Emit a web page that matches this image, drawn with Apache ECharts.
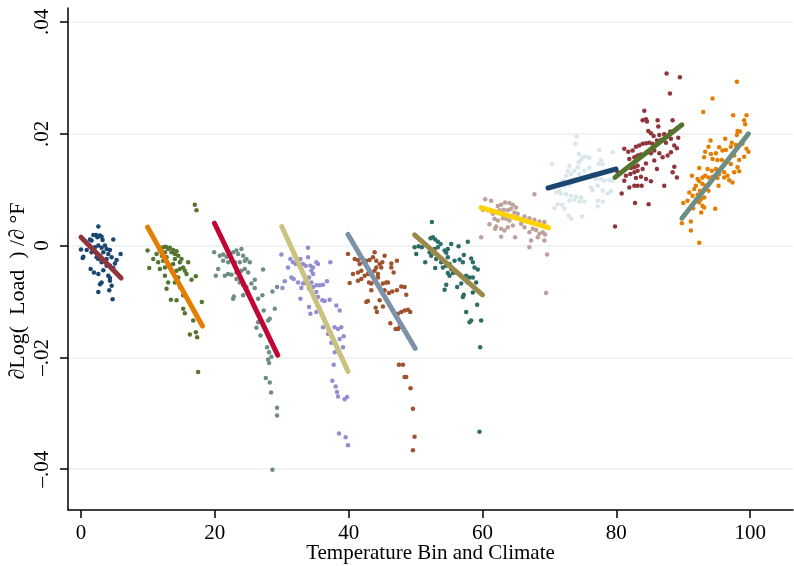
<!DOCTYPE html>
<html>
<head>
<meta charset="utf-8">
<script src="https://cdn.jsdelivr.net/npm/echarts@6/dist/echarts.min.js"></script>
<style>
  html, body { margin: 0; padding: 0; background: #fff; }
  #chart { width: 794px; height: 566px; }
</style>
</head>
<body>
<div id="chart"></div>
<script>
// tick labels
var xTicks = [0, 20, 40, 60, 80, 100];
var yTicks = [-0.04, -0.02, 0, 0.02, 0.04];

// scatter groups (x = bin, y = slope)
var scatter1 = [[2.59,0.0034],[1.84,0.0019],[2.24,0.0019],[2.44,0.0015],[2.84,0.0018],[3.08,0.0016],[3.23,0.0010],[1.59,0.0009],[1.34,0.0011],[4.83,0.0011],[0.0,-0.0007],[0.85,-0.0008],[1.59,-0.0012],[2.09,-0.0003],[2.59,0.0000],[3.08,-0.0004],[3.58,0.0000],[3.83,-0.0006],[4.33,-0.0008],[3.33,-0.0012],[2.84,-0.0018],[2.34,-0.0021],[0.35,-0.0020],[0.25,-0.0022],[4.08,-0.0015],[4.58,-0.0021],[5.92,-0.0015],[5.32,-0.0026],[5.07,-0.0032],[2.59,-0.0024],[3.08,-0.0030],[3.83,-0.0024],[1.44,-0.0042],[1.94,-0.0048],[2.59,-0.0051],[3.33,-0.0044],[4.08,-0.0054],[4.33,-0.0058],[3.08,-0.0066],[2.84,-0.0069],[4.33,-0.0063],[4.58,-0.0072],[4.23,-0.0080],[2.59,-0.0083],[4.73,-0.0096],[3.83,-0.0036],[4.33,-0.0036],[4.83,-0.0040]];
var scatter2 = [[17.01,0.0073],[17.26,0.0063],[9.95,-0.0009],[10.80,-0.0024],[10.20,-0.0040],[11.29,-0.0015],[11.79,-0.0009],[12.29,-0.0003],[12.69,-0.0002],[13.03,-0.0006],[13.28,-0.0004],[13.53,-0.0012],[13.78,-0.0008],[14.03,-0.0015],[14.28,-0.0010],[14.53,-0.0018],[12.79,-0.0021],[12.29,-0.0027],[11.79,-0.0042],[11.54,-0.0030],[12.54,-0.0039],[13.28,-0.0036],[13.78,-0.0033],[14.28,-0.0045],[14.78,-0.0042],[15.27,-0.0039],[15.52,-0.0045],[16.02,-0.0030],[15.77,-0.0051],[15.02,-0.0024],[14.53,-0.0057],[14.03,-0.0066],[13.03,-0.0066],[12.79,-0.0077],[12.54,-0.0054],[14.78,-0.0074],[15.27,-0.0089],[14.28,-0.0098],[13.43,-0.0097],[16.52,-0.0061],[17.16,-0.0055],[15.27,-0.0113],[15.52,-0.0121],[16.77,-0.0134],[18.06,-0.0101],[16.27,-0.0159],[17.16,-0.0155],[17.36,-0.0164],[17.51,-0.0226],[12.54,-0.0012],[12.09,-0.0018],[14.03,-0.0024],[14.78,-0.0030]];
var scatter3 = [[19.90,-0.0012],[20.75,-0.0018],[21.24,-0.0016],[21.74,-0.0020],[22.24,-0.0015],[22.74,-0.0012],[23.23,-0.0009],[23.98,-0.0006],[23.48,-0.0015],[24.23,-0.0018],[24.73,-0.0024],[25.22,-0.0030],[24.48,-0.0027],[23.73,-0.0030],[22.99,-0.0030],[22.49,-0.0027],[21.99,-0.0030],[21.24,-0.0027],[20.50,-0.0042],[20.15,-0.0054],[21.49,-0.0054],[21.99,-0.0051],[22.49,-0.0052],[23.23,-0.0048],[23.98,-0.0045],[24.48,-0.0042],[24.98,-0.0048],[23.23,-0.0060],[23.73,-0.0066],[24.23,-0.0071],[24.73,-0.0074],[25.47,-0.0068],[25.97,-0.0061],[25.97,-0.0076],[24.98,-0.0086],[24.23,-0.0089],[22.84,-0.0091],[22.74,-0.0095],[27.21,-0.0043],[26.47,-0.0095],[27.11,-0.0089],[28.61,-0.0082],[29.30,-0.0074],[27.31,-0.0116],[28.96,-0.0113],[28.21,-0.0131],[27.96,-0.0134],[26.47,-0.0137],[26.22,-0.0147],[26.82,-0.0161],[27.81,-0.0182],[28.11,-0.0191],[28.46,-0.0199],[27.96,-0.0204],[28.11,-0.0210],[27.61,-0.0237],[28.21,-0.0245],[28.41,-0.0263],[29.30,-0.0290],[29.30,-0.0304],[28.61,-0.0401]];
var scatter4 = [[29.95,-0.0016],[30.94,-0.0039],[31.29,-0.0024],[31.69,-0.0030],[32.09,-0.0033],[32.44,-0.0027],[32.79,-0.0024],[33.18,-0.0033],[33.58,-0.0036],[33.93,-0.0004],[33.93,-0.0021],[34.28,-0.0036],[34.68,-0.0039],[35.17,-0.0030],[35.42,-0.0033],[37.26,-0.0030],[30.45,-0.0064],[30.10,-0.0076],[31.44,-0.0057],[31.79,-0.0060],[32.44,-0.0066],[32.93,-0.0076],[33.18,-0.0068],[33.58,-0.0063],[34.08,-0.0057],[34.43,-0.0045],[34.68,-0.0051],[34.43,-0.0066],[34.68,-0.0074],[35.17,-0.0071],[35.67,-0.0071],[36.17,-0.0070],[36.77,-0.0064],[33.78,-0.0068],[34.08,-0.0077],[35.17,-0.0083],[35.42,-0.0092],[36.07,-0.0098],[36.42,-0.0099],[37.16,-0.0097],[32.79,-0.0095],[34.08,-0.0110],[34.28,-0.0122],[35.17,-0.0119],[35.67,-0.0113],[38.16,-0.0107],[38.66,-0.0116],[36.17,-0.0146],[36.92,-0.0158],[37.91,-0.0146],[38.41,-0.0149],[38.90,-0.0146],[39.25,-0.0162],[37.41,-0.0174],[38.66,-0.0167],[39.16,-0.0182],[37.91,-0.0191],[37.76,-0.0213],[37.56,-0.0242],[38.06,-0.0252],[38.26,-0.0262],[38.41,-0.0270],[39.40,-0.0275],[39.75,-0.0271],[38.56,-0.0336],[39.55,-0.0343],[39.90,-0.0357]];
var scatter5 = [[39.90,-0.0015],[40.90,-0.0024],[41.39,-0.0026],[41.64,-0.0033],[42.14,-0.0030],[42.64,-0.0027],[43.13,-0.0026],[43.63,-0.0021],[43.88,-0.0012],[44.13,-0.0027],[44.63,-0.0033],[45.02,-0.0030],[45.37,-0.0018],[46.37,-0.0032],[47.21,-0.0027],[40.65,-0.0051],[41.39,-0.0048],[41.89,-0.0045],[42.39,-0.0054],[42.89,-0.0051],[43.38,-0.0048],[43.88,-0.0045],[44.38,-0.0051],[44.87,-0.0039],[44.13,-0.0039],[40.15,-0.0067],[41.39,-0.0063],[41.89,-0.0060],[43.04,-0.0066],[43.38,-0.0068],[43.88,-0.0063],[44.38,-0.0057],[45.12,-0.0068],[45.62,-0.0066],[45.87,-0.0066],[46.37,-0.0039],[46.72,-0.0048],[43.38,-0.0080],[44.63,-0.0074],[45.37,-0.0080],[46.02,-0.0085],[46.52,-0.0082],[47.21,-0.0080],[47.86,-0.0073],[48.36,-0.0074],[48.61,-0.0088],[42.64,-0.0101],[42.89,-0.0099],[44.63,-0.0098],[45.12,-0.0109],[44.03,-0.0111],[44.23,-0.0119],[47.36,-0.0122],[47.86,-0.0119],[48.36,-0.0116],[48.86,-0.0115],[49.20,-0.0119],[46.22,-0.0139],[47.01,-0.0149],[47.36,-0.0149],[47.61,-0.0146],[47.51,-0.0213],[48.11,-0.0213],[48.36,-0.0235],[48.61,-0.0235],[49.25,-0.0255],[49.60,-0.0292],[49.85,-0.0342],[49.60,-0.0366]];
var scatter6 = [[52.44,0.0042],[49.85,-0.0003],[50.45,-0.0001],[50.94,-0.0003],[50.10,-0.0015],[51.44,-0.0030],[52.24,0.0013],[52.59,0.0015],[52.93,0.0011],[53.33,0.0007],[53.73,0.0003],[53.33,-0.0003],[52.84,-0.0006],[52.09,-0.0012],[52.34,-0.0018],[53.08,-0.0024],[52.93,-0.0040],[53.83,-0.0030],[54.33,-0.0009],[54.58,-0.0013],[54.82,-0.0006],[55.32,0.0003],[56.42,-0.0001],[57.81,0.0007],[54.82,-0.0021],[55.07,-0.0033],[55.82,-0.0027],[56.57,-0.0025],[57.06,-0.0030],[57.21,-0.0017],[58.31,-0.0023],[58.56,-0.0030],[58.81,-0.0039],[59.30,-0.0043],[54.08,-0.0039],[54.58,-0.0036],[55.32,-0.0042],[55.57,-0.0049],[54.82,-0.0049],[55.07,-0.0054],[56.07,-0.0048],[57.56,-0.0054],[58.06,-0.0057],[58.56,-0.0057],[59.05,-0.0066],[57.81,-0.0066],[56.82,-0.0068],[56.22,-0.0074],[54.58,-0.0070],[54.33,-0.0079],[58.56,-0.0084],[57.21,-0.0088],[57.06,-0.0092],[59.20,-0.0106],[57.56,-0.0119],[58.31,-0.0134],[58.06,-0.0137],[59.80,-0.0134],[59.65,-0.0182],[59.55,-0.0333]];
var scatter7 = [[60.40,0.0083],[61.29,0.0080],[60.05,0.0064],[60.80,0.0063],[61.54,0.0057],[62.29,0.0071],[62.79,0.0073],[63.38,0.0077],[64.03,0.0076],[64.53,0.0073],[65.02,0.0068],[62.54,0.0063],[63.18,0.0064],[63.78,0.0063],[64.28,0.0066],[64.78,0.0059],[65.27,0.0057],[61.79,0.0048],[62.29,0.0045],[63.03,0.0049],[63.53,0.0048],[64.03,0.0045],[64.53,0.0052],[65.52,0.0048],[66.27,0.0052],[67.01,0.0049],[67.76,0.0046],[68.51,0.0043],[69.25,0.0042],[61.04,0.0038],[62.04,0.0034],[62.79,0.0030],[63.28,0.0027],[63.78,0.0033],[64.53,0.0036],[66.27,0.0033],[67.01,0.0024],[67.51,0.0030],[68.01,0.0028],[68.51,0.0021],[69.00,0.0024],[69.35,0.0020],[59.80,0.0015],[62.79,0.0016],[64.88,0.0015],[67.26,0.0009],[68.26,0.0015],[69.25,0.0009],[67.01,-0.0003],[67.76,0.0092],[69.65,-0.0016],[69.50,-0.0085],[61.89,0.0030],[65.77,0.0039]];
var scatter8 = [[74.08,0.0195],[73.88,0.0182],[70.40,0.0146],[72.99,0.0143],[72.74,0.0134],[72.49,0.0125],[73.23,0.0128],[73.73,0.0134],[74.23,0.0140],[74.38,0.0149],[74.73,0.0153],[74.98,0.0158],[75.47,0.0159],[75.97,0.0157],[74.38,0.0164],[74.48,0.0128],[75.22,0.0134],[75.97,0.0139],[77.46,0.0171],[79.45,0.0167],[77.71,0.0153],[77.36,0.0146],[77.96,0.0146],[76.47,0.0128],[76.97,0.0119],[77.71,0.0119],[78.21,0.0116],[78.96,0.0117],[79.45,0.0116],[71.99,0.0116],[72.24,0.0107],[72.99,0.0109],[73.48,0.0113],[73.98,0.0116],[71.49,0.0098],[71.00,0.0095],[71.74,0.0093],[72.49,0.0092],[73.23,0.0089],[73.98,0.0088],[74.73,0.0086],[76.22,0.0104],[76.47,0.0099],[77.21,0.0107],[77.96,0.0098],[78.71,0.0093],[79.20,0.0097],[70.75,0.0067],[71.24,0.0074],[71.89,0.0073],[72.24,0.0066],[72.99,0.0080],[73.73,0.0082],[74.48,0.0079],[75.22,0.0079],[77.21,0.0080],[77.96,0.0079],[77.21,0.0070],[72.89,0.0054],[73.23,0.0048],[74.88,0.0052]];
var scatter9 = [[87.51,0.0308],[89.50,0.0301],[88.01,0.0272],[84.18,0.0241],[83.93,0.0224],[84.43,0.0226],[84.58,0.0222],[86.17,0.0224],[88.41,0.0224],[86.27,0.0213],[84.78,0.0205],[85.17,0.0201],[85.57,0.0196],[86.42,0.0198],[87.16,0.0199],[88.06,0.0204],[89.25,0.0193],[81.19,0.0173],[81.79,0.0168],[82.44,0.0170],[82.93,0.0177],[83.43,0.0179],[83.93,0.0182],[84.43,0.0183],[84.93,0.0184],[85.42,0.0182],[86.07,0.0188],[86.67,0.0189],[87.41,0.0184],[88.16,0.0191],[88.66,0.0179],[89.05,0.0174],[81.94,0.0155],[82.69,0.0158],[83.18,0.0161],[83.68,0.0163],[84.68,0.0167],[85.17,0.0165],[85.67,0.0170],[86.42,0.0165],[86.92,0.0158],[87.66,0.0161],[88.16,0.0167],[82.19,0.0139],[82.69,0.0140],[83.18,0.0143],[84.43,0.0147],[85.67,0.0152],[88.66,0.0141],[80.20,0.0131],[81.44,0.0125],[82.09,0.0128],[82.69,0.0131],[83.18,0.0134],[83.93,0.0137],[86.07,0.0137],[88.41,0.0131],[89.05,0.0122],[81.19,0.0116],[82.93,0.0121],[83.68,0.0123],[84.43,0.0119],[85.17,0.0115],[81.94,0.0104],[82.69,0.0107],[83.18,0.0107],[83.78,0.0107],[87.16,0.0107],[80.80,0.0093],[82.79,0.0076],[84.83,0.0074],[79.80,0.0034]];
var scatter10 = [[98.01,0.0293],[94.38,0.0263],[92.99,0.0239],[97.46,0.0233],[99.45,0.0233],[99.10,0.0224],[99.25,0.0217],[98.11,0.0205],[98.46,0.0204],[98.01,0.0198],[94.08,0.0188],[96.27,0.0191],[97.26,0.0184],[97.86,0.0180],[98.85,0.0182],[93.78,0.0177],[95.37,0.0176],[94.88,0.0165],[93.28,0.0168],[94.13,0.0164],[95.87,0.0170],[96.37,0.0171],[97.11,0.0177],[99.45,0.0173],[99.75,0.0168],[97.61,0.0161],[98.36,0.0153],[99.10,0.0159],[93.13,0.0158],[94.38,0.0155],[95.12,0.0153],[95.77,0.0153],[96.47,0.0149],[97.11,0.0146],[98.11,0.0140],[92.39,0.0139],[93.63,0.0137],[94.28,0.0134],[94.88,0.0137],[95.37,0.0128],[96.12,0.0131],[96.62,0.0125],[97.61,0.0131],[98.36,0.0133],[91.29,0.0125],[92.14,0.0119],[92.88,0.0122],[93.28,0.0125],[93.78,0.0122],[94.38,0.0123],[95.12,0.0121],[96.12,0.0122],[96.87,0.0117],[97.36,0.0113],[92.39,0.0115],[92.88,0.0110],[93.38,0.0107],[91.89,0.0107],[91.64,0.0101],[92.49,0.0098],[93.13,0.0101],[93.78,0.0098],[95.27,0.0107],[90.90,0.0095],[91.39,0.0089],[92.14,0.0091],[92.64,0.0083],[93.13,0.0086],[90.64,0.0080],[91.99,0.0083],[92.39,0.0077],[90.00,0.0076],[92.88,0.0071],[93.13,0.0068],[91.49,0.0067],[94.78,0.0066],[92.69,0.0059],[91.14,0.0043],[89.80,0.0040],[91.14,0.0027],[92.39,0.0005]];

// fitted lines, end points
var fit1 = [[0.0,0.0015],[6.0,-0.0058]];
var fit2 = [[9.95,0.0033],[18.15,-0.0144]];
var fit3 = [[19.95,0.0040],[29.4,-0.0196]];
var fit4 = [[30.0,0.0034],[39.9,-0.0225]];
var fit5 = [[39.9,0.0020],[49.95,-0.0184]];
var fit6 = [[49.85,0.0019],[60.0,-0.0088]];
var fit7 = [[59.8,0.0068],[69.85,0.0032]];
var fit8 = [[69.8,0.0103],[79.95,0.0137]];
var fit9 = [[79.8,0.0122],[89.8,0.0216]];
var fit10 = [[89.8,0.0049],[99.75,0.0200]];

var groups = [scatter1,scatter2,scatter3,scatter4,scatter5,scatter6,scatter7,scatter8,scatter9,scatter10];
var fits = [fit1,fit2,fit3,fit4,fit5,fit6,fit7,fit8,fit9,fit10];

// stata s2color order: points take one colour, the fit the next
var pointColors = ['#1a476f','#55752f','#6e8e84','#938dd2','#a0522d','#2d6d66','#bfa19c','#d9e6eb','#90353b','#e37e00'];
var lineColors = ['#90353b','#e37e00','#c10534','#cac27e','#7b92a8','#9c8847','#ffd200','#1a476f','#55752f','#6e8e84'];

var serif = 'Liberation Serif';

var series = [];
groups.forEach(function(g, i){
  series.push({
    type:'scatter',
    data:g,
    symbolSize:4.5,
    itemStyle:{color:pointColors[i], opacity:1},
    z:2
  });
  series.push({
    type:'line',
    data:fits[i],
    showSymbol:false,
    lineStyle:{width:5, color:lineColors[i], cap:'round'},
    z:3
  });
});

var chart = echarts.init(document.getElementById('chart'));
chart.setOption({
  animation:false,
  backgroundColor:'#fff',
  grid:{left:68, right:1, top:8, bottom:56, outerBoundsMode:'none', containLabel:false},
  xAxis:{
    type:'value', min:-1.94, max:106.4,
    name:'Temperature Bin and Climate', nameLocation:'middle', nameGap:33, nameMoveOverlap:false,
    nameTextStyle:{fontFamily:serif, fontSize:21, color:'#000', verticalAlign:'top'},
    axisLine:{show:true, onZero:false, lineStyle:{color:'#000', width:1.5}},
    axisTick:{show:true, length:8, customValues:xTicks, lineStyle:{color:'#000', width:1.5}},
    axisLabel:{customValues:xTicks, margin:13, fontFamily:serif, fontSize:21, color:'#000'},
    splitLine:{show:false}
  },
  yAxis:{
    type:'value', min:-0.0473, max:0.0425,
    axisLine:{show:true, onZero:false, lineStyle:{color:'#000', width:1.5}},
    axisTick:{show:true, length:8, customValues:yTicks, lineStyle:{color:'#000', width:1.5}},
    axisLabel:{
      customValues:yTicks, rotate:90, margin:15,
      fontFamily:serif, fontSize:21, color:'#000',
      formatter:function(v){
        if (Math.abs(v) < 1e-9) return '0';
        return (v < 0 ? '\u2013' : '') + Math.abs(v).toFixed(2).replace(/^0/, '');
      }
    },
    splitLine:{show:true, lineStyle:{color:'#edf1f2', width:1.5}}
  },
  graphic:[{
    type:'text', x:18, y:291, rotation:Math.PI/2,
    style:{text:'\u2202Log(  Load  ) /\u2202 \u00b0F', font:'22px "Liberation Serif"', fill:'#000', textAlign:'center', textVerticalAlign:'middle'}
  }],
  series:series
});
</script>
</body>
</html>
